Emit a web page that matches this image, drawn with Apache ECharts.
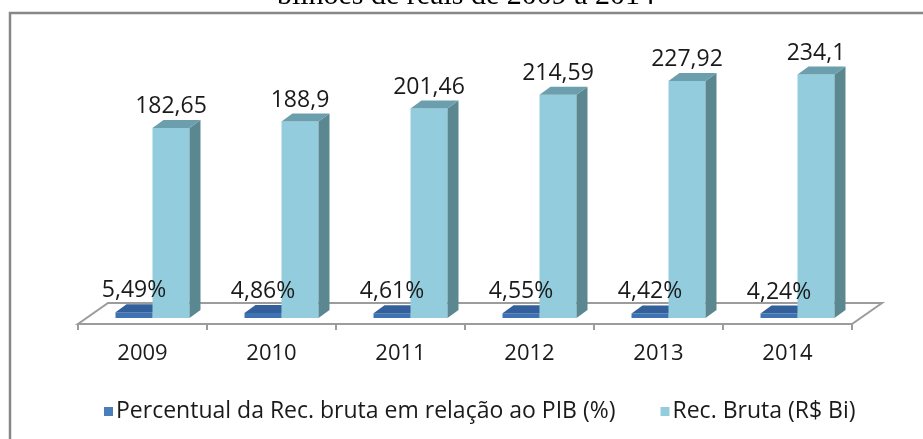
<!DOCTYPE html>
<html>
<head>
<meta charset="utf-8">
<script src="https://cdn.jsdelivr.net/npm/echarts@6/dist/echarts.min.js"></script>
<style>
html,body{margin:0;padding:0;background:#fff;}
#c{width:923px;height:439px;}
</style>
</head>
<body>
<div id="c"></div>
<script>
// ---- data ----
const categories = ['2009', '2010', '2011', '2012', '2013', '2014'];
const percentPIB = [5.49, 4.86, 4.61, 4.55, 4.42, 4.24];
const recBruta = [182.65, 188.9, 201.46, 214.59, 227.92, 234.1];
const seriesNames = ['Percentual da Rec. bruta em relação ao PIB (%)', 'Rec. Bruta (R$ Bi)'];
const titleLine = 'bilhões de reais de 2009 a 2014';

// ---- style constants ----
const FONT = '"Open Sans"';
const FLOOR_DX = 30, FLOOR_DY = -21;
const BAR_OX = 10, BAR_OY = -6;
const BAR_DX = 11, BAR_DY = -8;
const BAR_FRAC = 37 / 129;
const palettes = [
  { front: '#3f72b2', side: '#2f5787', top: '#33609a', legend: '#4a7ebb' },
  { front: '#93cddd', side: '#5b8791', top: '#6b9fad', legend: '#93cddd' }
];

function fmt(v, pct) {
  return String(v).replace('.', ',') + (pct ? '%' : '');
}

function makeBarRender(si) {
  return function (params, api) {
    const cat = api.value(0);
    const val = api.value(1);
    const base = api.coord([cat, 0]);
    const top = api.coord([cat, val]);
    const band = api.size([1, 0])[0];
    const w = band * BAR_FRAC;
    const x0 = base[0] + (si === 0 ? -w : 0) + BAR_OX;
    const x1 = x0 + w;
    const yb = base[1] + BAR_OY;
    const yt = top[1] + BAR_OY;
    const p = palettes[si];
    return {
      type: 'group',
      children: [
        { type: 'polygon', shape: { points: [[x0, yb], [x1, yb], [x1, yt], [x0, yt]] },
          style: { fill: p.front } },
        { type: 'polygon', shape: { points: [[x1, yb], [x1 + BAR_DX, yb + BAR_DY], [x1 + BAR_DX, yt + BAR_DY], [x1, yt]] },
          style: { fill: p.side } },
        { type: 'polygon', shape: { points: [[x0, yt], [x1, yt], [x1 + BAR_DX, yt + BAR_DY], [x0 + BAR_DX, yt + BAR_DY]] },
          style: { fill: p.top } },
        { type: 'text', z2: 100,
          style: { text: fmt(val, si === 0), x: (x0 + x1) / 2, y: yt + BAR_DY - 2,
                   align: 'center', verticalAlign: 'bottom', fill: '#1a1a1a',
                   font: '23px ' + FONT } }
      ]
    };
  };
}

function floorRender(params, api) {
  const cs = params.coordSys;
  const xl = cs.x, xr = cs.x + cs.width, yf = cs.y + cs.height;
  return {
    type: 'polygon',
    z2: -10,
    shape: { points: [[xl, yf], [xr, yf], [xr + FLOOR_DX, yf + FLOOR_DY], [xl + FLOOR_DX, yf + FLOOR_DY]] },
    style: { fill: '#ffffff', stroke: '#9c9c9c', lineWidth: 2 }
  };
}

const chart = echarts.init(document.getElementById('c'), null, { renderer: 'canvas' });
chart.setOption({
  animation: false,
  backgroundColor: '#ffffff',
  textStyle: { fontFamily: 'Open Sans' },
  grid: { left: 78, right: 71, top: 64, bottom: 115, containLabel: false },
  xAxis: {
    type: 'category',
    data: categories,
    boundaryGap: true,
    axisLine: { show: false },
    axisTick: { show: true, length: 6, lineStyle: { color: '#9c9c9c', width: 2 } },
    axisLabel: { margin: 19, fontSize: 22, color: '#1a1a1a', fontFamily: 'Open Sans' }
  },
  yAxis: {
    type: 'value', min: 0, max: 250, interval: 50,
    show: false
  },
  legend: {
    left: 99, top: 395,
    itemWidth: 9, itemHeight: 9, itemGap: 45,
    icon: 'rect',
    textStyle: { fontSize: 23, color: '#1a1a1a', fontFamily: 'Open Sans', padding: [0, 0, 0, -2] },
    data: seriesNames
  },
  graphic: [
    { type: 'rect', shape: { x: 10, y: 13, width: 1000, height: 600 },
      style: { fill: 'none', stroke: '#878787', lineWidth: 2.5 }, z: -1 },
    { type: 'text', style: { text: titleLine, x: 466, y: -4, align: 'center', verticalAlign: 'middle',
      font: '30px "Liberation Serif"', fill: '#000' } }
  ],
  series: [
    { type: 'custom', name: '__floor', renderItem: floorRender, data: [[0]], silent: true, z: 1 },
    { type: 'custom', name: seriesNames[0], renderItem: makeBarRender(0),
      itemStyle: { color: palettes[0].legend },
      data: categories.map((c, i) => [i, percentPIB[i]]), z: 2 },
    { type: 'custom', name: seriesNames[1], renderItem: makeBarRender(1),
      itemStyle: { color: palettes[1].legend },
      data: categories.map((c, i) => [i, recBruta[i]]), z: 2 }
  ]
});
</script>
</body>
</html>
